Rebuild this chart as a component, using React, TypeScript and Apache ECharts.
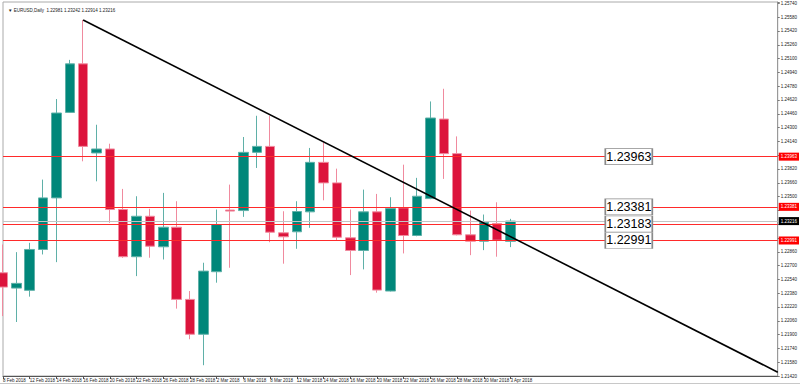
import React, { useEffect, useRef } from 'react';
import * as echarts from 'echarts';

const dates = [
  '8 Feb 2018', '9 Feb 2018',
  '12 Feb 2018', '13 Feb 2018', '14 Feb 2018', '15 Feb 2018', '16 Feb 2018',
  '19 Feb 2018', '20 Feb 2018', '21 Feb 2018', '22 Feb 2018', '23 Feb 2018',
  '26 Feb 2018', '27 Feb 2018', '28 Feb 2018', '1 Mar 2018', '2 Mar 2018',
  '5 Mar 2018', '6 Mar 2018', '7 Mar 2018', '8 Mar 2018', '9 Mar 2018',
  '12 Mar 2018', '13 Mar 2018', '14 Mar 2018', '15 Mar 2018', '16 Mar 2018',
  '19 Mar 2018', '20 Mar 2018', '21 Mar 2018', '22 Mar 2018', '23 Mar 2018',
  '26 Mar 2018', '27 Mar 2018', '28 Mar 2018', '29 Mar 2018', '30 Mar 2018',
  '2 Apr 2018', '3 Apr 2018',
];

const opens = [
  1.22617, 1.22439, 1.22413, 1.22887, 1.23485, 1.24476, 1.25039, 1.24006, 1.24052, 1.2335,
  1.22803, 1.23272, 1.22918, 1.23145, 1.22308, 1.21904, 1.22629, 1.23344, 1.23338, 1.24013,
  1.24082, 1.2308, 1.23092, 1.23323, 1.23897, 1.23659, 1.23022, 1.22875, 1.23323, 1.22405,
  1.23369, 1.23049, 1.23477, 1.24399, 1.23998, 1.23057, 1.22983, 1.23188, 1.22981,
];
const highs = [
  1.22945, 1.22856, 1.22964, 1.23697, 1.24631, 1.25085, 1.25548, 1.24333, 1.24113, 1.23589,
  1.23504, 1.23358, 1.23543, 1.23446, 1.22405, 1.22733, 1.2335, 1.23639, 1.24191, 1.24437,
  1.24437, 1.2333, 1.23446, 1.24064, 1.24128, 1.23824, 1.2335, 1.23581, 1.23531, 1.23492,
  1.2387, 1.23717, 1.24603, 1.2475, 1.24198, 1.23338, 1.23292, 1.23434, 1.23242,
];
const lows = [
  1.22115, 1.22046, 1.2234, 1.22829, 1.2274, 1.2447, 1.23909, 1.23677, 1.23196, 1.2279,
  1.22578, 1.22791, 1.22771, 1.22201, 1.21846, 1.21545, 1.22502, 1.22675, 1.23265, 1.23832,
  1.22971, 1.22722, 1.22895, 1.23138, 1.23457, 1.22991, 1.2259, 1.22656, 1.22386, 1.224,
  1.22841, 1.2304, 1.2347, 1.23705, 1.2305, 1.22821, 1.22879, 1.22803, 1.22914,
];
const closes = [
  1.22451, 1.22494, 1.22887, 1.23485, 1.24469, 1.25039, 1.24082, 1.24052, 1.2335, 1.22803,
  1.23272, 1.22925, 1.23145, 1.22308, 1.21904, 1.22636, 1.23176, 1.23332, 1.24013, 1.24082,
  1.23087, 1.23034, 1.23327, 1.23897, 1.23659, 1.23029, 1.22875, 1.23323, 1.22416, 1.23361,
  1.23049, 1.23504, 1.24411, 1.23998, 1.23057, 1.22983, 1.23203, 1.22995, 1.23216,
];

const levels = [1.23963, 1.23381, 1.23183, 1.22991];
const hiddenAxisLevel = 1.23183;
const bidPrice = 1.23216;
const trendStart = { index: 6, price: 1.25548 };
const trendEnd = { index: 58, price: 1.21464 };
const emptySlots = 20;
const boxIndex = 47;
const yTickStart = 1.2142;
const yTickStep = 0.0016;
const yMax = 1.25756;
const titleText = '\u25BC EURUSD,Daily  1.22981 1.23242 1.22914 1.23216';

const UP = '#00877a';
const DOWN = '#dc143c';

export default function App() {
  const ref = useRef<HTMLDivElement>(null);

  useEffect(() => {
    if (!ref.current) return;
    const chart = echarts.init(ref.current, undefined, { renderer: 'svg' });

    const categories = [...dates, ...Array.from({ length: emptySlots }, () => '')];
    const candleData = dates.map((_, i) => [opens[i], closes[i], lows[i], highs[i]]);
    const showLabel = (index: number) => index % 2 === 0 && index < dates.length;
    const badgePrices = [...levels.filter((p) => p !== hiddenAxisLevel), bidPrice];

    const smallFont = { fontSize: 4.5, fontFamily: 'Liberation Sans', color: '#222' };

    const axisBadge = (text: string, bg: string) => ({
      show: true,
      position: 'end',
      distance: 1,
      formatter: text,
      backgroundColor: bg,
      color: '#fff',
      fontSize: 4.5,
      lineHeight: 6,
      fontFamily: 'Liberation Sans',
      padding: [1, 2],
    });

    const levelLines = levels.map((p) => ({
      yAxis: p,
      lineStyle: { color: '#ff2a2a', width: 1, type: 'solid' },
      label: p === hiddenAxisLevel ? { show: false } : axisBadge(p.toFixed(5), '#ff0000'),
    }));

    const option: any = {
      animation: false,
      backgroundColor: '#fff',
      title: {
        text: titleText,
        left: 3,
        top: 3,
        textStyle: { ...smallFont, fontWeight: 'normal' },
      },
      grid: { left: 2, right: 22, top: 2, bottom: 12, show: true, borderColor: '#aaa', borderWidth: 1 },
      xAxis: {
        type: 'category',
        data: categories,
        boundaryGap: false,
        axisLine: { lineStyle: { color: '#555' } },
        axisTick: { show: true, interval: showLabel, length: 3, lineStyle: { color: '#555' } },
        axisLabel: { interval: showLabel, align: 'left', margin: 2, hideOverlap: false, ...smallFont },
        splitLine: { show: false },
      },
      yAxis: {
        type: 'value',
        position: 'right',
        min: yTickStart,
        max: yMax,
        interval: yTickStep,
        axisLine: { show: true, lineStyle: { color: '#999' } },
        axisTick: { show: true, length: 2, lineStyle: { color: '#777' } },
        axisLabel: {
          margin: 3,
          hideOverlap: false,
          lineHeight: 6,
          ...smallFont,
          formatter: (v: number) => {
            if (Math.abs(v - yMax) < 1e-6) return '';
            if (badgePrices.some((b) => Math.abs(b - v) < 0.0007)) return '';
            return v.toFixed(5);
          },
        },
        splitLine: { show: false },
      },
      series: [
        {
          type: 'candlestick',
          data: candleData,
          barWidth: 10,
          itemStyle: {
            color: UP,
            color0: DOWN,
            borderColor: '#5fb0a8',
            borderColor0: '#f08a9e',
            borderWidth: 1,
          },
          markLine: {
            silent: true,
            precision: 5,
            symbol: ['none', 'none'],
            label: { show: false },
            data: [
              {
                yAxis: bidPrice,
                lineStyle: { color: '#c4c4c4', width: 1, type: 'solid' },
                label: axisBadge(bidPrice.toFixed(5), '#000'),
              },
              ...levelLines,
              [
                { coord: [trendStart.index, trendStart.price], lineStyle: { color: '#000', width: 1.6, type: 'solid' }, label: { show: false } },
                { coord: [trendEnd.index, trendEnd.price] },
              ],
            ],
          },
          markPoint: {
            silent: true,
            data: levels.map((p) => ({
              coord: [boxIndex, p],
              symbol: 'rect',
              symbolSize: [47, 16],
              symbolOffset: [-2, 0],
              itemStyle: { color: '#fff', borderColor: '#8a8a8a', borderWidth: 1 },
              label: {
                show: true,
                position: 'inside',
                formatter: p.toFixed(5),
                color: '#000',
                fontSize: 12.5,
                fontFamily: 'Liberation Sans',
              },
            })),
          },
        },
      ],
      graphic: [
        {
          type: 'line',
          shape: { x1: 0, y1: 383.5, x2: 800, y2: 383.5 },
          style: { stroke: '#c8c8c8', lineWidth: 1 },
        },
      ],
    };

    chart.setOption(option);
    return () => chart.dispose();
  }, []);

  return (
    <div
      ref={ref}
      style={{ position: 'fixed', left: 0, top: 0, width: 800, height: 388, background: '#fff' }}
    />
  );
}
